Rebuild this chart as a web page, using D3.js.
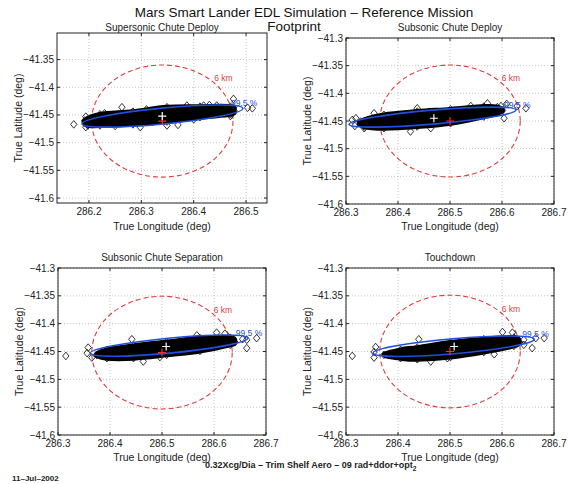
<!DOCTYPE html>
<html>
<head>
<meta charset="utf-8">
<script src="https://d3js.org/d3.v7.min.js"></script>
<style>
body { margin: 0; background: #fff; }
text { font-family: "Liberation Sans", Arial, Helvetica, sans-serif; }
</style>
</head>
<body>
<div id="div1"></div>
<script>

// Svg Dimensions
var svg_width = 568
var svg_height = 484

// ---- data ----
var panelTitles = ["Supersonic Chute Deploy", "Subsonic Chute Deploy", "Subsonic Chute Separation", "Touchdown"]

var lonDomains = [[286.139, 286.540], [286.3, 286.7], [286.3, 286.7], [286.3, 286.7]]
var latDomains = [[-41.609, -41.302], [-41.6, -41.3], [-41.6, -41.3], [-41.6, -41.3]]

var lonTicks = [
  [286.2, 286.3, 286.4, 286.5],
  [286.3, 286.4, 286.5, 286.6, 286.7],
  [286.3, 286.4, 286.5, 286.6, 286.7],
  [286.3, 286.4, 286.5, 286.6, 286.7]
]
var latTicks = [
  [-41.6, -41.55, -41.5, -41.45, -41.4, -41.35],
  [-41.6, -41.55, -41.5, -41.45, -41.4, -41.35, -41.3],
  [-41.6, -41.55, -41.5, -41.45, -41.4, -41.35, -41.3],
  [-41.6, -41.55, -41.5, -41.45, -41.4, -41.35, -41.3]
]

// target (red +) and mean (white +)
var targets = [[286.34, -41.461], [286.5, -41.45], [286.5, -41.452], [286.5, -41.45]]
var means = [[286.34, -41.452], [286.469, -41.445], [286.508, -41.441], [286.508, -41.441]]

// 99.5 % ellipse: the two ends of the long axis, and half width in deg latitude
var ellipseTips = [
  [[286.187, -41.466], [286.494, -41.438]],
  [[286.306, -41.456], [286.627, -41.430]],
  [[286.362, -41.453], [286.665, -41.426]],
  [[286.352, -41.453], [286.662, -41.428]]
]
var ellipseHalfWidths = [0.0144, 0.0127, 0.0135, 0.0135]

// outline of the dense black part of each footprint
var footprintCores = [
  [[286.192, -41.460], [286.221, -41.449], [286.284, -41.444], [286.349, -41.436], [286.412, -41.435], [286.470, -41.435], [286.477, -41.442], [286.470, -41.449], [286.412, -41.454], [286.349, -41.462], [286.284, -41.467], [286.221, -41.469], [286.198, -41.469]],
  [[286.328, -41.451], [286.373, -41.439], [286.437, -41.433], [286.501, -41.429], [286.565, -41.424], [286.591, -41.425], [286.601, -41.431], [286.591, -41.436], [286.565, -41.442], [286.501, -41.454], [286.437, -41.460], [286.373, -41.463], [286.335, -41.460]],
  [[286.374, -41.456], [286.394, -41.447], [286.445, -41.440], [286.509, -41.433], [286.573, -41.426], [286.631, -41.425], [286.640, -41.433], [286.631, -41.438], [286.573, -41.449], [286.509, -41.456], [286.445, -41.462], [286.394, -41.462]],
  [[286.373, -41.456], [286.405, -41.447], [286.437, -41.443], [286.501, -41.434], [286.565, -41.428], [286.623, -41.425], [286.633, -41.433], [286.623, -41.440], [286.565, -41.451], [286.501, -41.460], [286.437, -41.464], [286.405, -41.462]]
]

// loose cases around the core
var outliers = [
  [[286.171, -41.467], [286.194, -41.453], [286.194, -41.472], [286.199, -41.463], [286.23, -41.447], [286.25, -41.470], [286.263, -41.436], [286.298, -41.472], [286.31, -41.440], [286.349, -41.469], [286.37, -41.468], [286.387, -41.433], [286.40, -41.458], [286.419, -41.433], [286.43, -41.432], [286.444, -41.433], [286.457, -41.443], [286.46, -41.447], [286.470, -41.452], [286.476, -41.421], [286.476, -41.437], [286.503, -41.437], [286.512, -41.438]],
  [[286.312, -41.448], [286.319, -41.445], [286.317, -41.459], [286.335, -41.463], [286.354, -41.436], [286.424, -41.469], [286.437, -41.427], [286.463, -41.463], [286.540, -41.423], [286.572, -41.418], [286.591, -41.433], [286.598, -41.423], [286.604, -41.445], [286.609, -41.419], [286.629, -41.423], [286.646, -41.427]],
  [[286.315, -41.458], [286.356, -41.453], [286.358, -41.443], [286.365, -41.461], [286.406, -41.460], [286.442, -41.428], [286.464, -41.468], [286.496, -41.460], [286.567, -41.421], [286.605, -41.416], [286.621, -41.418], [286.637, -41.429], [286.655, -41.428], [286.663, -41.429], [286.663, -41.444], [286.682, -41.426]],
  [[286.312, -41.458], [286.354, -41.451], [286.354, -41.461], [286.357, -41.442], [286.440, -41.428], [286.463, -41.468], [286.495, -41.462], [286.585, -41.455], [286.601, -41.415], [286.620, -41.416], [286.642, -41.429], [286.642, -41.438], [286.658, -41.444], [286.665, -41.426], [286.681, -41.426]]
]

var circleKm = 6
var marsRadiusKm = 3396
var confidenceLabel = "99.5 %"

// ---- layout ----
var boxes = [
  {x0: 57, x1: 267, y0: 33, y1: 203, titleY: 31, xlabY: 230},
  {x0: 346, x1: 554, y0: 38, y1: 204, titleY: 31, xlabY: 230},
  {x0: 58, x1: 266, y0: 268, y1: 435, titleY: 261, xlabY: 461},
  {x0: 346, x1: 554, y0: 268, y1: 435, titleY: 261, xlabY: 461}
]

var svg = d3.select("#div1").append("svg")
.attr("width", svg_width)
.attr("height", svg_height)

svg.append("rect")
.attr("width", svg_width)
.attr("height", svg_height)
.style("fill", "white")

var minus = function(v) {
  return String(v).replace("-", "\u2212")
}

var diamond = "M0,-3.8L3.2,0L0,3.8L-3.2,0Z"

var panel_maker = function(i) {
  var b = boxes[i]
  var x = d3.scaleLinear().domain(lonDomains[i]).range([b.x0, b.x1])
  var y = d3.scaleLinear().domain(latDomains[i]).range([b.y1, b.y0])

  var g = svg.append("g")

  var clip = "clip" + i
  g.append("clipPath").attr("id", clip)
  .append("rect")
  .attr("x", b.x0).attr("y", b.y0)
  .attr("width", b.x1 - b.x0).attr("height", b.y1 - b.y0)

  // grid
  g.selectAll(".gx").data(lonTicks[i]).enter().append("line")
  .attr("x1", function(d) { return x(d) }).attr("x2", function(d) { return x(d) })
  .attr("y1", b.y0).attr("y2", b.y1)
  .style("stroke", "#b8b8b8").style("stroke-width", 0.8).style("stroke-dasharray", "1,2")

  g.selectAll(".gy").data(latTicks[i]).enter().append("line")
  .attr("y1", function(d) { return y(d) }).attr("y2", function(d) { return y(d) })
  .attr("x1", b.x0).attr("x2", b.x1)
  .style("stroke", "#b8b8b8").style("stroke-width", 0.8).style("stroke-dasharray", "1,2")

  var plot = g.append("g").attr("clip-path", "url(#" + clip + ")")

  // 6 km circle around the target
  var t = targets[i]
  var rLat = circleKm / marsRadiusKm * 180 / Math.PI
  var rLon = rLat / Math.cos(Math.abs(t[1]) * Math.PI / 180)
  plot.append("ellipse")
  .attr("cx", x(t[0])).attr("cy", y(t[1]))
  .attr("rx", x(t[0] + rLon) - x(t[0]))
  .attr("ry", y(t[1]) - y(t[1] + rLat))
  .style("fill", "none").style("stroke", "#e03c3c").style("stroke-width", 1.1)
  .style("stroke-dasharray", "5,3")

  // dense core of the footprint
  plot.append("path")
  .attr("d", d3.line().x(function(d) { return x(d[0]) }).y(function(d) { return y(d[1]) }).curve(d3.curveCardinalClosed)(footprintCores[i]))
  .style("fill", "black").style("stroke", "black").style("stroke-width", 5).style("stroke-linejoin", "round")

  plot.selectAll(".edge").data(footprintCores[i].concat(outliers[i])).enter().append("path")
  .attr("d", diamond)
  .attr("transform", function(d) { return "translate(" + x(d[0]) + "," + y(d[1]) + ")" })
  .style("fill", "none").style("stroke", "black").style("stroke-width", 0.8)

  // 99.5 % ellipse
  var p1 = [x(ellipseTips[i][0][0]), y(ellipseTips[i][0][1])]
  var p2 = [x(ellipseTips[i][1][0]), y(ellipseTips[i][1][1])]
  var cx = (p1[0] + p2[0]) / 2, cy = (p1[1] + p2[1]) / 2
  var a = Math.hypot(p2[0] - p1[0], p2[1] - p1[1]) / 2
  var bb = y(latDomains[i][0]) - y(latDomains[i][0] + ellipseHalfWidths[i])
  var ang = Math.atan2(p2[1] - p1[1], p2[0] - p1[0]) * 180 / Math.PI
  plot.append("ellipse")
  .attr("cx", 0).attr("cy", 0).attr("rx", a).attr("ry", bb)
  .attr("transform", "translate(" + cx + "," + cy + ") rotate(" + ang + ")")
  .style("fill", "none").style("stroke", "#1f4fe0").style("stroke-width", 1.6)

  g.append("text")
  .text(confidenceLabel)
  .attr("x", p2[0] - 12).attr("y", p2[1] - 2)
  .attr("font-size", 8.5)
  .style("fill", "#1f4fe0")

  // 6 km label at 45 deg on the circle
  g.append("text")
  .text(circleKm + " km")
  .attr("x", x(t[0] + rLon * Math.SQRT1_2) + 2)
  .attr("y", y(t[1] + rLat * Math.SQRT1_2) + 0)
  .attr("font-size", 8.5)
  .style("fill", "#e03c3c")

  // target and mean markers
  var plus = function(p, color) {
    plot.append("path")
    .attr("d", "M-4,0H4M0,-4V4")
    .attr("transform", "translate(" + x(p[0]) + "," + y(p[1]) + ")")
    .style("stroke", color).style("stroke-width", 1.2)
  }
  plus(t, "#ff2a2a")
  plus(means[i], "white")

  // box and inward ticks
  g.append("rect")
  .attr("x", b.x0).attr("y", b.y0)
  .attr("width", b.x1 - b.x0).attr("height", b.y1 - b.y0)
  .style("fill", "none").style("stroke", "#222").style("stroke-width", 1)

  g.selectAll(".tx").data(lonTicks[i]).enter().append("path")
  .attr("d", function(d) { return "M" + x(d) + "," + b.y1 + "v-3M" + x(d) + "," + b.y0 + "v3" })
  .style("stroke", "#222")

  g.selectAll(".ty").data(latTicks[i]).enter().append("path")
  .attr("d", function(d) { return "M" + b.x0 + "," + y(d) + "h3M" + b.x1 + "," + y(d) + "h-3" })
  .style("stroke", "#222")

  g.selectAll(".lx").data(lonTicks[i]).enter().append("text")
  .text(function(d) { return d.toFixed(1) })
  .attr("x", function(d) { return x(d) })
  .attr("y", b.y1 + 12)
  .attr("text-anchor", "middle")
  .attr("font-size", 10)
  .style("fill", "#222")

  g.selectAll(".ly").data(latTicks[i]).enter().append("text")
  .text(function(d) { return minus(d) })
  .attr("x", b.x0 - 3)
  .attr("y", function(d) { return y(d) + 3.5 })
  .attr("text-anchor", "end")
  .attr("font-size", 10)
  .style("fill", "#222")

  g.append("text")
  .text(panelTitles[i])
  .attr("x", (b.x0 + b.x1) / 2).attr("y", b.titleY)
  .attr("text-anchor", "middle")
  .attr("font-size", 10)
  .style("fill", "#222")

  g.append("text")
  .text("True Longitude (deg)")
  .attr("x", (b.x0 + b.x1) / 2).attr("y", b.xlabY)
  .attr("text-anchor", "middle")
  .attr("font-size", 10.5)
  .style("fill", "#222")

  g.append("text")
  .text("True Latitude (deg)")
  .attr("transform", "translate(" + (b.x0 - 35) + "," + ((b.y0 + b.y1) / 2) + ") rotate(-90)")
  .attr("text-anchor", "middle")
  .attr("font-size", 10.5)
  .style("fill", "#222")
}

for (var i = 0; i < 4; i++) { panel_maker(i) }

svg.append("text")
.text("Mars Smart Lander EDL Simulation \u2013 Reference Mission")
.attr("x", 304).attr("y", 17)
.attr("text-anchor", "middle")
.attr("font-size", 13.5)
.style("fill", "#111")

svg.append("text")
.text("Footprint")
.attr("x", 294).attr("y", 31)
.attr("text-anchor", "middle")
.attr("font-size", 13.5)
.style("fill", "#111")

svg.append("text")
.text("11\u2013Jul\u20132002")
.attr("x", 12).attr("y", 481)
.attr("font-size", 8)
.attr("font-weight", "bold")
.style("fill", "#222")

var foot = svg.append("text")
.attr("x", 205).attr("y", 468)
.attr("font-size", 9)
.attr("font-weight", "bold")
.style("fill", "#222")
foot.append("tspan").text("0.32Xcg/Dia \u2013 Trim Shelf Aero \u2013 09 rad+ddor+opt")
foot.append("tspan").text("2").attr("dy", 3).attr("font-size", 6.5)

</script>
</body>
</html>
